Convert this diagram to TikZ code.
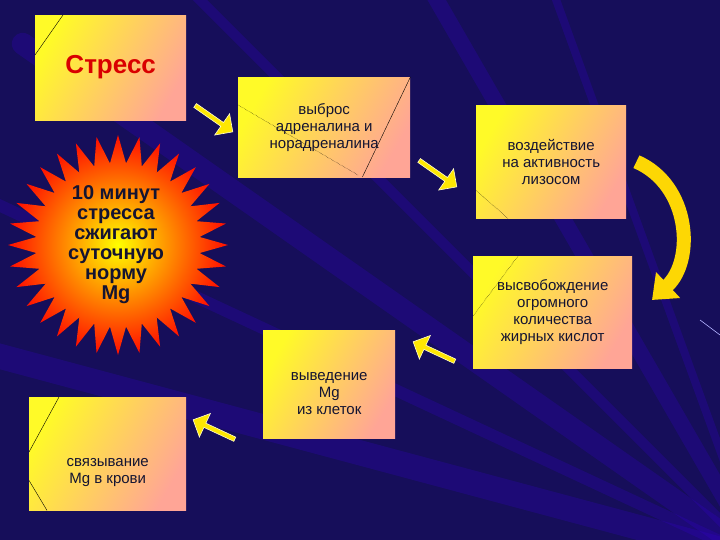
\documentclass[tikz,border=0pt]{standalone}
\usepackage{fontspec}
\setmainfont{Liberation Sans}
\usetikzlibrary{shapes.symbols,shapes.arrows,arrows.meta,shadows}
\definecolor{navy}{RGB}{22,14,90}
\definecolor{boxpink}{RGB}{255,165,150}
\definecolor{boxyel}{RGB}{255,250,40}
\definecolor{txt}{RGB}{20,20,50}
\begin{document}
\begin{tikzpicture}[x=1pt,y=-1pt,
  box/.style={draw=none,shading=axis,left color=boxyel,right color=boxpink,shading angle=60,
    align=center,text=txt,font=\fontsize{15}{17}\selectfont,anchor=north west,inner sep=2pt},
  barrow/.style={single arrow,draw=white!80!yellow,line width=0.6pt,fill=yellow!90!orange,
    minimum height=46pt,minimum width=26pt,single arrow head extend=6pt,inner sep=1pt},
  streak/.style={line width=#1,color=blue!60!violet,opacity=0.25,line cap=round}]
\fill[navy] (0,0) rectangle (720,540);
\useasboundingbox (0,0) rectangle (720,540);
\foreach \a/\w in {170/30,180/18,195/25,205/12,215/22,225/10,240/16,250/8}{
  \draw[streak=\w] (760,560) -- ++(\a:900);}
\draw[white!70!blue,line width=0.6pt] (700,320) -- (720,335);
% boxes
\node[box,minimum width=151pt,minimum height=105pt] (stress) at (35,15) {};
\node[font=\bfseries\fontsize{26}{28}\selectfont,text=red!85!black] at ([yshift=1pt]stress.center) {\textcolor{gray!40}{}Стресс};
\node[box,minimum width=172pt,minimum height=100pt] (vybros) at (238,77) {выброс\\адреналина и\\норадреналина};
\node[box,minimum width=150pt,minimum height=113pt] (vozd) at (476,105) {воздействие\\на активность\\лизосом};
\node[box,minimum width=159pt,minimum height=112pt] (vysv) at (473,256) {высвобождение\\огромного\\количества\\жирных кислот};
\node[box,minimum width=132pt,minimum height=108pt] (vyved) at (263,330) {\\[10pt]выведение\\Mg\\из клеток};
\node[box,minimum width=157pt,minimum height=113pt] (svyaz) at (29,397) {\\[28pt]связывание\\Mg в крови};
% thin decorative lines
\draw[black,line width=0.4pt] (stress.north west) ++(28,0) -- ++(-28,40);
\draw[black,line width=0.4pt] (vybros.north east) -- ++(-48,100);
\draw[black,densely dotted,line width=0.4pt] (vybros.north west) ++(0,28) -- ++(120,70);
\draw[black,densely dotted,line width=0.4pt] (vozd.south west) ++(0,-28) -- ++(32,28);
\draw[black,densely dotted,line width=0.4pt] (vysv.north west) ++(45,0) -- ++(-45,60);
\draw[black,line width=0.4pt] (svyaz.north west) ++(30,0) -- ++(-30,55);
\draw[black,line width=0.4pt] (svyaz.south west) ++(0,-30) -- ++(18,30);
% starburst
\node[starburst,starburst points=32,starburst point height=28pt,random starburst=0,
  minimum size=220pt,inner color=yellow,outer color=red!90!orange,draw=none] (burst) at (118,245) {};
\node[align=center,text=txt,font=\bfseries\fontsize{20}{20}\selectfont] (bt) at (116,245) {10 минут\\стресса\\сжигают\\суточную\\норму\\Mg};
% block arrows
\node[barrow,rotate=-35] (a1) at (213,118) {};
\node[barrow,rotate=-35] (a2) at (437,173) {};
\node[barrow,rotate=155] (a4) at (435,352) {};
\node[barrow,rotate=155] (a5) at (215,430) {};
% curved arrow
\draw[line width=14pt,yellow!75!orange,-{Triangle[width=34pt,length=22pt]}]
  (vozd.east) ++(10,0) .. controls (690,185) and (695,260) .. (652,300);
\end{tikzpicture}
\end{document}
